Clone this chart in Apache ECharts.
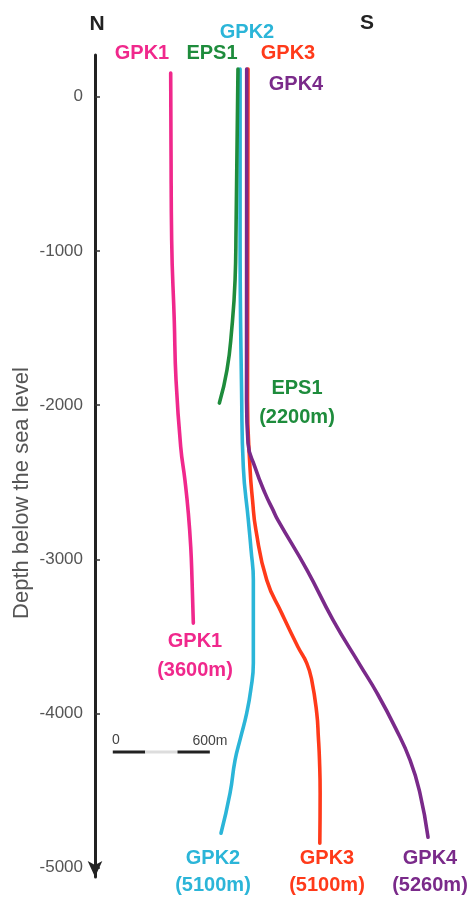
<!DOCTYPE html>
<html><head><meta charset="utf-8">
<script src="https://cdn.jsdelivr.net/npm/echarts@6/dist/echarts.min.js"></script>
<style>html,body{margin:0;padding:0;background:#fff}#c{width:475px;height:899px}</style>
</head><body><div id="c"></div>
<script>
// Horizontal offset (m) and depth below sea level (m) for each well
const gpk1X = [358, 360, 364, 380, 391, 420, 446, 467, 482, 490, 498];
const gpk1D = [153, -346, -930, -1449, -1838, -2272, -2486, -2700, -2921, -3135, -3414];
const eps1X = [774, 762, 756, 735, 706, 659];
const eps1D = [179, -865, -1189, -1513, -1773, -1987];
const gpk2X = [787, 787, 797, 807, 838, 855, 869, 869, 869, 853, 828, 791, 756, 725, 669];
const gpk2D = [179, -865, -1967, -2402, -2746, -2940, -3135, -3349, -3673, -3848, -3997, -4153, -4302, -4516, -4776];
const gpk3X = [836, 833, 848, 864, 885, 952, 1044, 1145, 1199, 1230, 1261, 1271, 1278, 1282, 1280];
const gpk3D = [179, -1967, -2402, -2616, -2811, -3135, -3349, -3569, -3673, -3783, -3997, -4153, -4302, -4516, -4841];
const gpk4X = [828, 827, 836, 879, 941, 991, 1021, 1201, 1362, 1529, 1634, 1745, 1838, 1899, 1949];
const gpk4D = [179, -1967, -2246, -2402, -2571, -2681, -2746, -3070, -3394, -3686, -3868, -4088, -4302, -4516, -4802];
const depthTicks = [0, -1000, -2000, -3000, -4000, -5000];
const scaleBarX = [0, 200, 400, 600];
const scaleBarDepth = -4250;

const pair = (xs, ds) => xs.map((x, i) => [x, ds[i]]);
const C = {gpk1:'#f0288c', eps1:'#1e8c3c', gpk2:'#2bb5d8', gpk3:'#ff3a1a', gpk4:'#7a2a8a'};

function well(name, xs, ds, color, z) {
  return {type:'line', name, data: pair(xs, ds), showSymbol:false, smooth:0.5, z,
    lineStyle:{color, width:3.6, cap:'round', join:'round'}, silent:true};
}
function seg(a, b, color) {
  return {type:'line', data:[[scaleBarX[a], scaleBarDepth],[scaleBarX[b], scaleBarDepth]],
    showSymbol:false, lineStyle:{color, width:3}, silent:true, z:1};
}
const txt = (t, x, y, color, size, weight) => ({type:'text', x, y,
  style:{text:t, fill:color, font:(weight||'bold')+' '+size+'px "Liberation Sans", Arial, sans-serif', align:'center', verticalAlign:'middle'}});

const chart = echarts.init(document.getElementById('c'), null, {renderer:'canvas'});
chart.setOption({
  animation:false,
  backgroundColor:'#fff',
  grid:{left:95, right:8, top:55, bottom:22, containLabel:false, outerBoundsMode:'none'},
  xAxis:{type:'value', min:-110, max:2190, show:false},
  yAxis:{type:'value', min:-5060, max:270,
    axisLine:{show:true, onZero:false, symbol:['arrow','none'], symbolSize:[11,16], lineStyle:{color:'#222', width:3}},
    axisTick:{show:true, inside:true, length:5, customValues:depthTicks, lineStyle:{color:'#333', width:1.5}},
    axisLabel:{customValues:depthTicks, color:'#555', fontSize:17, margin:12,
      fontFamily:'"Liberation Sans", Arial, sans-serif', formatter:(v) => String(v)},
    splitLine:{show:false}},
  series:[
    well('GPK1', gpk1X, gpk1D, C.gpk1, 3),
    well('GPK3', gpk3X, gpk3D, C.gpk3, 3),
    well('GPK2', gpk2X, gpk2D, C.gpk2, 4),
    well('GPK4', gpk4X, gpk4D, C.gpk4, 5),
    well('EPS1', eps1X, eps1D, C.eps1, 6),
    seg(0, 1, '#222'), seg(1, 2, '#ddd'), seg(2, 3, '#222')
  ],
  graphic:[
    txt('N', 97, 24, '#222', 21),
    txt('S', 367, 23, '#222', 21),
    txt('GPK1', 142, 53, C.gpk1, 20),
    txt('EPS1', 212, 53, C.eps1, 20),
    txt('GPK2', 247, 32, C.gpk2, 20),
    txt('GPK3', 288, 53, C.gpk3, 20),
    txt('GPK4', 296, 84, C.gpk4, 20),
    txt('EPS1', 297, 388, C.eps1, 20),
    txt('(2200m)', 297, 417, C.eps1, 20),
    txt('GPK1', 195, 641, C.gpk1, 20),
    txt('(3600m)', 195, 670, C.gpk1, 20),
    txt('GPK2', 213, 858, C.gpk2, 20),
    txt('(5100m)', 213, 885, C.gpk2, 20),
    txt('GPK3', 327, 858, C.gpk3, 20),
    txt('(5100m)', 327, 885, C.gpk3, 20),
    txt('GPK4', 430, 858, C.gpk4, 20),
    txt('(5260m)', 430, 885, C.gpk4, 20),
    txt('0', 116, 740, '#444', 14, 'normal'),
    txt('600m', 210, 741, '#444', 14, 'normal'),
    {type:'text', x:22, y:493, rotation:Math.PI/2,
      style:{text:'Depth below the sea level', fill:'#555', font:'normal 22px "Liberation Sans", Arial, sans-serif', align:'center', verticalAlign:'middle'}}
  ]
});
</script></body></html>
